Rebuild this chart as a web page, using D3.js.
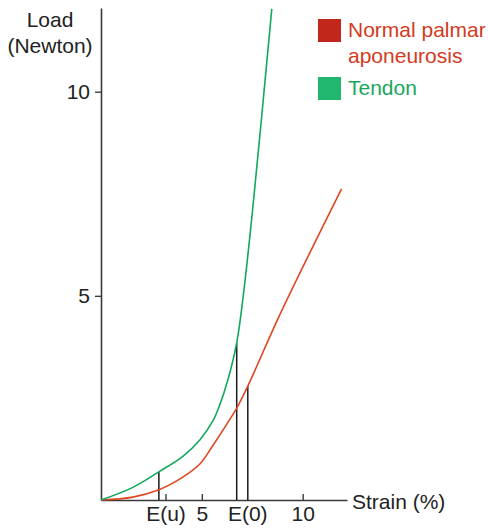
<!DOCTYPE html>
<html>
<head>
<meta charset="utf-8">
<script src="https://cdn.jsdelivr.net/npm/d3@7"></script>
<style>
  body { margin: 0; background: #fff; }
  svg { display: block; font-family: "Liberation Sans", Arial, sans-serif; }
</style>
</head>
<body>
<svg id="chart" width="488" height="528"></svg>
<script>
// Load–strain curves (strain %, load N)
const tendonStrain = [0, 1.58, 2.87, 4.06, 4.90, 5.54, 5.89, 6.29, 6.73, 7.03, 7.52, 8.47];
const tendonLoad   = [0, 0.31, 0.69, 1.07, 1.47, 1.93, 2.33, 2.94, 3.85, 4.90, 7.11, 12.03];

const palmarStrain = [0, 1.58, 2.87, 4.06, 4.90, 5.54, 6.24, 6.73, 7.28, 8.86, 11.93];
const palmarLoad   = [0, 0.07, 0.25, 0.56, 0.88, 1.33, 1.86, 2.25, 2.79, 4.53, 7.62];

// E(u) / E(0) drop lines
const markerStrain = [2.87, 6.73, 7.28];
const markerLoad   = [0.69, 3.85, 2.79];

const xTickValues = [3.2, 5, 10];
const xTickLabels = ["E(u)", "5", "10"];
const e0Label = "E(0)";
const e0LabelAt = 7.28;
const yTickValues = [5, 10];

const legendNames  = ["Normal palmar|aponeurosis", "Tendon"];
const legendSwatch = ["#c1271a", "#22b76f"];
const legendText   = ["#d33a1e", "#17a85e"];
const lineColors   = ["#e0461f", "#12a85f"];

const svg = d3.select("#chart");
const fontSize = 21;

const x = d3.scaleLinear().domain([0, 12.2]).range([101, 347]);
const y = d3.scaleLinear().domain([0, 12.05]).range([500, 8]);

// ── axes ───────────────────────────────────────────
const axisColor = "#3a3a3a";

const yAxis = svg.append("g")
  .attr("transform", `translate(${x(0)},0)`)
  .call(d3.axisLeft(y).tickValues(yTickValues).tickSizeInner(6).tickSizeOuter(0).tickPadding(5));

const xAxis = svg.append("g")
  .attr("transform", `translate(0,${y(0)})`)
  .call(d3.axisBottom(x).tickValues(xTickValues).tickSizeInner(-6).tickSizeOuter(0).tickPadding(6)
    .tickFormat((d, i) => xTickLabels[i]));

[yAxis, xAxis].forEach(a => {
  a.attr("font-size", fontSize).attr("font-family", "Liberation Sans, Arial, sans-serif");
  a.selectAll("text").attr("fill", "#222");
  a.select(".domain").attr("stroke", axisColor).attr("stroke-width", 1.6);
  a.selectAll(".tick line").attr("stroke", axisColor).attr("stroke-width", 1.4);
});

xAxis.append("text")
  .attr("x", x(e0LabelAt)).attr("y", 6).attr("dy", "0.71em")
  .attr("text-anchor", "middle").attr("fill", "#222")
  .text(e0Label);

svg.append("text")
  .attr("x", 352).attr("y", 509)
  .attr("font-size", fontSize).attr("fill", "#222")
  .text("Strain (%)");

svg.append("text")
  .attr("x", 50).attr("y", 27)
  .attr("text-anchor", "middle").attr("font-size", fontSize).attr("fill", "#222")
  .text("Load");
svg.append("text")
  .attr("x", 50).attr("y", 53)
  .attr("text-anchor", "middle").attr("font-size", fontSize).attr("fill", "#222")
  .text("(Newton)");

// ── drop lines ─────────────────────────────────────
svg.selectAll(".marker").data(markerStrain)
  .join("line")
  .attr("class", "marker")
  .attr("x1", d => x(d)).attr("x2", d => x(d))
  .attr("y1", y(0)).attr("y2", (d, i) => y(markerLoad[i]))
  .attr("stroke", "#1a1a1a").attr("stroke-width", 1.5);

// ── curves ─────────────────────────────────────────
const line = d3.line()
  .x(d => x(d[0])).y(d => y(d[1]))
  .curve(d3.curveCatmullRom.alpha(0.5));

const series = [
  d3.zip(palmarStrain, palmarLoad),
  d3.zip(tendonStrain, tendonLoad)
];

svg.selectAll(".curve").data(series)
  .join("path")
  .attr("class", "curve")
  .attr("d", line)
  .attr("fill", "none")
  .attr("stroke", (d, i) => lineColors[i])
  .attr("stroke-width", 1.6);

// ── legend ─────────────────────────────────────────
const legendTop = [19, 77];
const lg = svg.selectAll(".legend").data(legendNames)
  .join("g")
  .attr("class", "legend")
  .attr("transform", (d, i) => `translate(318,${legendTop[i]})`);

lg.append("rect")
  .attr("width", 23).attr("height", 23)
  .attr("fill", (d, i) => legendSwatch[i]);

lg.each(function(d, i) {
  d.split("|").forEach((part, j) => {
    d3.select(this).append("text")
      .attr("x", 30).attr("y", 18 + j * 26)
      .attr("font-size", fontSize)
      .attr("fill", legendText[i])
      .text(part);
  });
});
</script>
</body>
</html>
